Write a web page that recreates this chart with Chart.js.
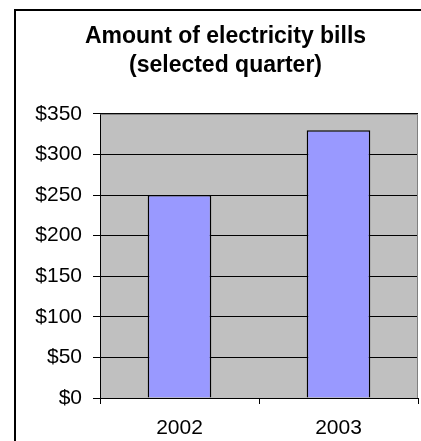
<!DOCTYPE html>
<html>
<head>
<meta charset="utf-8">
<script src="https://cdn.jsdelivr.net/npm/chart.js@4"></script>
<style>
  html, body { margin: 0; padding: 0; background: #fff; }
  #wrap { position: relative; width: 421px; height: 441px; }
</style>
</head>
<body>
<div id="wrap"><canvas id="chart" width="421" height="441"></canvas></div>
<script>
// chart data
const years = ['2002', '2003'];
const billAmounts = [250, 330];
const titleLines = ['Amount of electricity bills', '(selected quarter)'];
const yMin = 0, yMax = 350, yStep = 50;

const FONT = "'Liberation Sans', Arial, sans-serif";

// frame + grey plot background, drawn under the grid
const plotBackground = {
    id: 'plotBackground',
    beforeDraw(chart) {
        const { ctx, chartArea: a } = chart;
        ctx.save();
        ctx.fillStyle = '#fff';
        ctx.fillRect(0, 0, chart.width, chart.height);
        ctx.strokeStyle = '#000';
        ctx.lineWidth = 2;
        ctx.strokeRect(15, 10, chart.width + 20, chart.height + 20);
        ctx.fillStyle = '#c0c0c0';
        ctx.fillRect(a.left, a.top, a.right - a.left, a.bottom - a.top);
        ctx.restore();
    },
    beforeDatasetsDraw(chart) {
        // grey plot border on top and right
        const { ctx, chartArea: a } = chart;
        ctx.save();
        ctx.strokeStyle = '#808080';
        ctx.lineWidth = 1;
        ctx.beginPath();
        ctx.moveTo(a.left + 0.5, a.top + 0.5);
        ctx.lineTo(a.right - 0.5, a.top + 0.5);
        ctx.lineTo(a.right - 0.5, a.bottom);
        ctx.stroke();
        ctx.restore();
    }
};

new Chart(document.getElementById('chart').getContext('2d'), {
    type: 'bar',
    data: {
        labels: years,
        datasets: [{
            data: billAmounts,
            backgroundColor: '#9999ff',
            borderColor: '#000',
            borderWidth: 1.5,
            categoryPercentage: 1,
            barPercentage: 0.4
        }]
    },
    options: {
        responsive: false,
        animation: false,
        layout: { padding: { left: 33, right: 3, top: 0, bottom: 0 } },
        plugins: {
            legend: { display: false },
            tooltip: { enabled: false },
            title: {
                display: true,
                text: titleLines,
                color: '#000',
                font: { family: FONT, size: 23, weight: 'bold', lineHeight: 1.26 },
                padding: { top: 22, bottom: 34 }
            }
        },
        scales: {
            x: {
                offset: true,
                grid: { offset: true, drawOnChartArea: false, drawTicks: true, tickLength: 6, color: '#000' },
                border: { color: '#000', width: 1 },
                ticks: { color: '#000', font: { family: FONT, size: 21 }, padding: 12 },
                afterFit: s => { s.height = 43; }
            },
            y: {
                min: yMin, max: yMax,
                grid: { color: '#000', tickLength: 7, drawTicks: true },
                border: { color: '#000', width: 1 },
                ticks: {
                    stepSize: yStep,
                    color: '#000',
                    padding: 11,
                    font: { family: FONT, size: 21 },
                    callback: v => '$' + v
                },
                afterFit: s => { s.width = 67; }
            }
        }
    },
    plugins: [plotBackground]
});
</script>
</body>
</html>
